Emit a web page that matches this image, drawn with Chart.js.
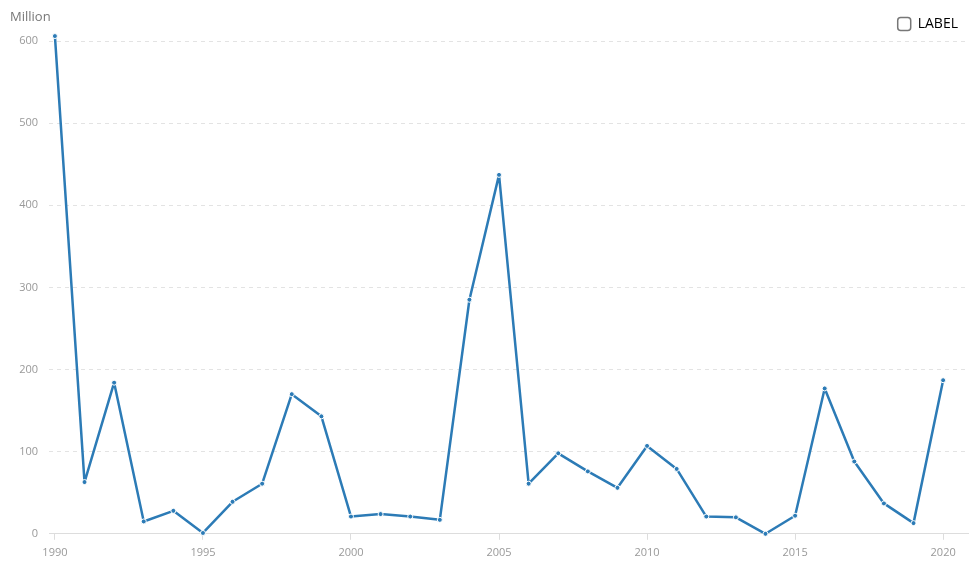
<!DOCTYPE html>
<html>
<head>
<meta charset="utf-8">
<script src="https://cdn.jsdelivr.net/npm/chart.js@4.4.1/dist/chart.umd.min.js"></script>
<style>
  html, body { margin: 0; padding: 0; background: #fff; }
  #wrap { position: relative; width: 977px; height: 571px; }
  #unit { position: absolute; left: 10px; top: 7px; font: 13px 'Open Sans', sans-serif; color: #777; }
</style>
</head>
<body>
<div id="wrap">
  <div id="unit">Million</div>
  <canvas id="chart" width="977" height="571"></canvas>
</div>
<script>
/* ── Data ── */
const YEARS = [1990, 1991, 1992, 1993, 1994, 1995, 1996, 1997, 1998, 1999,
  2000, 2001, 2002, 2003, 2004, 2005, 2006, 2007, 2008, 2009,
  2010, 2011, 2012, 2013, 2014, 2015, 2016, 2017, 2018, 2019, 2020];
const VALUES = [606, 63, 184, 15, 28, 1, 39, 61, 170, 143,
  21, 24, 21, 17, 285, 437, 61, 98, 76, 56,
  107, 79, 21, 20, 0, 22, 177, 88, 37, 13, 187];
const X_TICKS = [1990, 1995, 2000, 2005, 2010, 2015, 2020];
const SERIES_LABEL = 'LABEL';

const LINE = '#2c7bb6';
const FONT = "'Open Sans', sans-serif";

Chart.defaults.font.family = FONT;
Chart.defaults.font.size = 11;
Chart.defaults.color = '#999';

new Chart(document.getElementById('chart'), {
  type: 'line',
  data: {
    datasets: [{
      label: SERIES_LABEL,
      data: YEARS.map((y, i) => ({ x: y, y: VALUES[i] })),
      borderColor: LINE,
      backgroundColor: LINE,
      borderWidth: 2.5,
      borderJoinStyle: 'round',
      borderCapStyle: 'round',
      pointRadius: 2.5,
      pointBackgroundColor: LINE,
      pointBorderColor: '#fff',
      pointBorderWidth: 1,
      tension: 0,
      clip: false,
    }]
  },
  options: {
    responsive: false,
    animation: false,
    layout: { padding: { top: 7, right: 9, bottom: 6, left: 0 } },
    plugins: {
      tooltip: { enabled: false },
      legend: {
        position: 'top',
        align: 'end',
        labels: {
          color: '#555',
          font: { size: 14, family: FONT },
          boxWidth: 13,
          boxHeight: 13,
          padding: 10,
          generateLabels: chart => [{
            text: SERIES_LABEL,
            fillStyle: '#fff',
            strokeStyle: '#777',
            lineWidth: 1.5,
            borderRadius: 3,
            datasetIndex: 0,
          }]
        }
      }
    },
    scales: {
      x: {
        type: 'linear',
        min: 1989.8,
        max: 2020.84,
        afterBuildTicks: s => { s.ticks = X_TICKS.map(v => ({ value: v })); },
        ticks: { callback: v => String(v), color: '#999', padding: 6, maxRotation: 0 },
        grid: { drawOnChartArea: false, color: '#ddd', tickLength: 6 },
        border: { color: '#ddd' }
      },
      y: {
        min: 0,
        max: 600,
        afterFit: s => { s.width = 49; },
        ticks: { stepSize: 100, color: '#999', padding: 11 },
        grid: { color: '#e3e3e3', drawTicks: false, lineWidth: 1 },
        border: { display: false, dash: [4, 4] }
      }
    }
  }
});
</script>
</body>
</html>
